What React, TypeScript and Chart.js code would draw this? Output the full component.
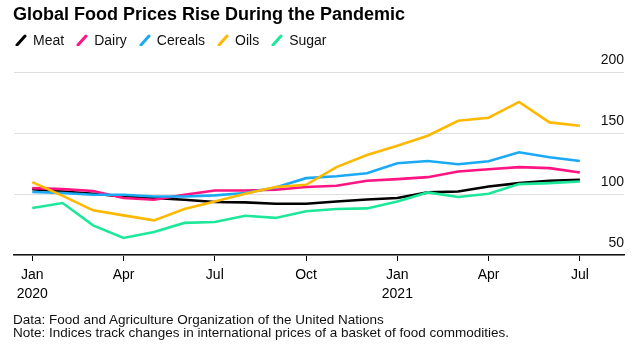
import React, { useEffect, useRef } from 'react';
import { Chart, registerables } from 'chart.js';

Chart.register(...registerables);

const FONT = "'Liberation Sans', Arial, Helvetica, sans-serif";

const title = 'Global Food Prices Rise During the Pandemic';
const sourceNote = 'Data: Food and Agriculture Organization of the United Nations';
const indexNote = 'Note: Indices track changes in international prices of a basket of food commodities.';

// Monthly, Jan 2020 .. Jul 2021
const months = [
  'Jan 2020', 'Feb 2020', 'Mar 2020', 'Apr 2020', 'May 2020', 'Jun 2020', 'Jul 2020',
  'Aug 2020', 'Sep 2020', 'Oct 2020', 'Nov 2020', 'Dec 2020', 'Jan 2021', 'Feb 2021',
  'Mar 2021', 'Apr 2021', 'May 2021', 'Jun 2021', 'Jul 2021',
];
const xTickIndex = [0, 3, 6, 9, 12, 15, 18];
const xTickLabels = [['Jan', '2020'], ['Apr'], ['Jul'], ['Oct'], ['Jan', '2021'], ['Apr'], ['Jul']];
const yTicks = [50, 100, 150, 200];

const seriesNames = ['Meat', 'Dairy', 'Cereals', 'Oils', 'Sugar'];
const seriesColors = ['#000000', '#ff1483', '#1aaaf5', '#ffb800', '#1de89a'];

const meat = [104, 102.1, 100.2, 98, 96.7, 95.3, 93.4, 93.1, 92, 92, 93.9, 95.5, 96.7, 101.3, 102.1, 106.2, 108.9, 110.8, 111.6];
const dairy = [104.8, 104, 102.4, 96.7, 95.3, 99.4, 102.9, 102.9, 103.5, 105.7, 106.7, 110.8, 112.2, 113.8, 118.4, 120.3, 122, 121.2, 117.6];
const cereals = [101.6, 100.8, 99.4, 99.4, 98, 98, 98.9, 100.8, 105.3, 113, 114.5, 117, 125.2, 127.1, 124.4, 126.9, 134.2, 130.1, 127.1];
const oils = [109.7, 98.5, 86.6, 82.5, 78.4, 87.7, 93.9, 100.2, 105.7, 107.5, 122, 132, 139.6, 147.8, 160, 162.5, 175.5, 158.7, 156];
const sugar = [88.5, 92.6, 74.3, 64, 68.9, 76.3, 77.1, 82.2, 80.4, 85.8, 87.7, 88.2, 93.9, 101.3, 97.5, 100.2, 108.1, 108.9, 110.2];

const seriesValues = [meat, dairy, cereals, oils, sugar];

const yLabelPlugin = {
  id: 'yLabelsAbove',
  afterDraw(chart: any) {
    const { ctx, chartArea, scales } = chart;
    const y = scales.y;
    ctx.save();
    ctx.font = `14px ${FONT}`;
    ctx.fillStyle = '#111';
    ctx.textAlign = 'right';
    ctx.textBaseline = 'alphabetic';
    yTicks.forEach((v) => {
      ctx.fillText(String(v), chartArea.right, y.getPixelForValue(v) - 8);
    });
    ctx.restore();
  },
};

function Slash({ color }: { color: string }) {
  return (
    <svg width={12} height={12} style={{ display: 'block' }}>
      <line x1={2} y1={11} x2={10} y2={2} stroke={color} strokeWidth={3} strokeLinecap="round" />
    </svg>
  );
}

export default function App() {
  const canvasRef = useRef<HTMLCanvasElement | null>(null);

  useEffect(() => {
    const canvas = canvasRef.current;
    if (!canvas) return;
    const n = seriesNames.length;
    const chart = new Chart(canvas, {
      type: 'line',
      data: {
        datasets: seriesNames.map((name, i) => ({
          label: name,
          data: seriesValues[i].map((v, k) => ({ x: k, y: v })),
          borderColor: seriesColors[i],
          backgroundColor: seriesColors[i],
          borderWidth: 2.6,
          pointRadius: 0,
          tension: 0,
          fill: false,
          order: n - i,
        })),
      },
      options: {
        responsive: false,
        animation: false,
        events: [],
        layout: { padding: { left: 14, right: 16, top: 72, bottom: 0 } },
        plugins: {
          legend: { display: false },
          title: { display: false },
          tooltip: { enabled: false },
        },
        scales: {
          x: {
            type: 'linear',
            min: -0.6,
            max: 19.45,
            afterBuildTicks: (s: any) => {
              s.ticks = xTickIndex.map((v) => ({ value: v }));
            },
            afterFit: (s: any) => {
              s.height = 95;
            },
            grid: {
              drawOnChartArea: false,
              drawTicks: true,
              tickLength: 6,
              color: '#000',
              lineWidth: 1,
            },
            border: { display: true, color: '#111', width: 1.5 },
            ticks: {
              autoSkip: false,
              maxRotation: 0,
              padding: 5,
              color: '#000',
              font: { family: FONT, size: 14, lineHeight: 1.35 },
              callback: (v: any) => {
                const idx = xTickIndex.indexOf(Number(v));
                return idx >= 0 ? xTickLabels[idx] : '';
              },
            },
          },
          y: {
            type: 'linear',
            position: 'right',
            min: 50,
            max: 200,
            afterBuildTicks: (s: any) => {
              s.ticks = yTicks.map((v) => ({ value: v }));
            },
            afterFit: (s: any) => {
              s.width = 0;
            },
            grid: { color: '#dedede', lineWidth: 1, drawTicks: false },
            border: { display: false },
            ticks: { display: false },
          },
        },
      },
      plugins: [yLabelPlugin],
    });
    return () => chart.destroy();
  }, []);

  return (
    <div style={{ position: 'fixed', left: 0, top: 0, width: 640, height: 350, background: '#fff', fontFamily: FONT, color: '#111', overflow: 'hidden' }}>
      <canvas ref={canvasRef} width={640} height={350} style={{ position: 'absolute', left: 0, top: 0, width: 640, height: 350 }} />
      <div style={{ position: 'absolute', left: 13, top: 3, fontSize: 18, lineHeight: '22px', fontWeight: 700, color: '#000', whiteSpace: 'nowrap' }}>
        {title}
      </div>
      <div style={{ position: 'absolute', left: 15, top: 32, display: 'flex', alignItems: 'center', fontSize: 14, lineHeight: '16px', whiteSpace: 'nowrap' }}>
        {seriesNames.map((name, i) => (
          <div key={name} style={{ display: 'flex', alignItems: 'center', marginRight: 12 }}>
            <Slash color={seriesColors[i]} />
            <span style={{ marginLeft: 6 }}>{name}</span>
          </div>
        ))}
      </div>
      <div style={{ position: 'absolute', left: 13, top: 313, fontSize: 13.5, lineHeight: '13.3px', whiteSpace: 'nowrap', color: '#111' }}>
        <div>{sourceNote}</div>
        <div>{indexNote}</div>
      </div>
    </div>
  );
}
